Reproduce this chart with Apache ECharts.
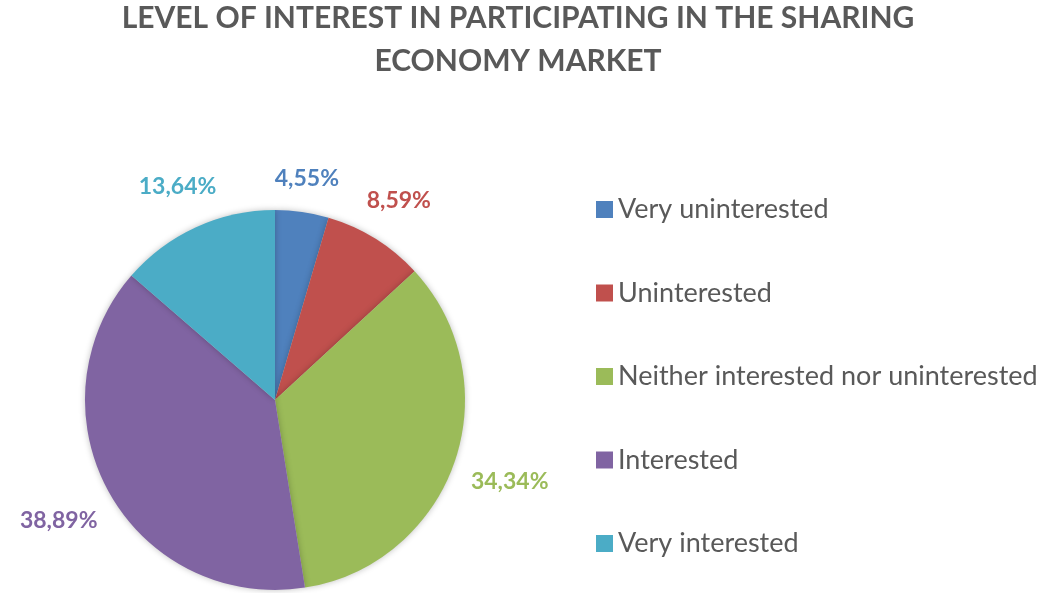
<!DOCTYPE html>
<html>
<head>
<meta charset="utf-8">
<script src="https://cdn.jsdelivr.net/npm/echarts@6/dist/echarts.min.js"></script>
<style>html,body{margin:0;padding:0;background:#fff}#c{width:1062px;height:593px}</style>
</head>
<body>
<div id="c"></div>
<script>
const titleText = 'LEVEL OF INTEREST IN PARTICIPATING IN THE SHARING\nECONOMY MARKET';
const categories = ['Very uninterested', 'Uninterested', 'Neither interested nor uninterested', 'Interested', 'Very interested'];
const values = [4.55, 8.59, 34.34, 38.89, 13.64];
const colors = ['#4F81BD', '#C0504D', '#9BBB59', '#8064A2', '#4BACC6'];

const CX = 275, CY = 400, R = 190, GAP = 18;
const total = values.reduce((a, b) => a + b, 0);
const midAngles = [];
let acc = 0;
values.forEach(v => { midAngles.push((acc + v / 2) / total * 2 * Math.PI); acc += v; });

const chart = echarts.init(document.getElementById('c'));
chart.setOption({
  animation: false,
  color: colors,
  title: {
    text: titleText,
    left: 518,
    textAlign: 'center',
    top: -3,
    padding: 0,
    textStyle: { fontFamily: 'Lato', fontWeight: 'bold', fontSize: 30, color: '#595959', lineHeight: 43 }
  },
  legend: {
    orient: 'vertical',
    left: 596,
    top: 196,
    padding: 0,
    itemWidth: 17,
    itemHeight: 17,
    itemGap: 56.5,
    icon: 'rect',
    data: categories,
    textStyle: { fontFamily: 'Lato', fontSize: 27, lineHeight: 26, color: '#595959', padding: [0, 0, 0, 0] }
  },
  series: [{
    type: 'pie',
    center: [CX, CY],
    radius: R,
    startAngle: 90,
    clockwise: true,
    data: categories.map((n, i) => ({ name: n, value: values[i] })),
    itemStyle: { shadowBlur: 6, shadowColor: 'rgba(0,0,0,0.25)' },
    label: {
      show: true,
      position: 'outside',
      formatter: p => p.value.toFixed(2).replace('.', ',') + '%',
      fontFamily: 'Lato',
      fontWeight: 'bold',
      fontSize: 23,
      color: 'inherit'
    },
    labelLine: { show: false, length: 18, length2: 0 },
    labelLayout: function (params) {
      const a = midAngles[params.dataIndex];
      const s = Math.sin(a), c = Math.cos(a);
      const w = params.labelRect.width, h = params.labelRect.height;
      const r = R + GAP + Math.abs(s) * w / 2 + Math.abs(c) * h / 2;
      return { x: CX + s * r, y: CY - c * r, align: 'center', verticalAlign: 'middle' };
    }
  }]
});
</script>
</body>
</html>
